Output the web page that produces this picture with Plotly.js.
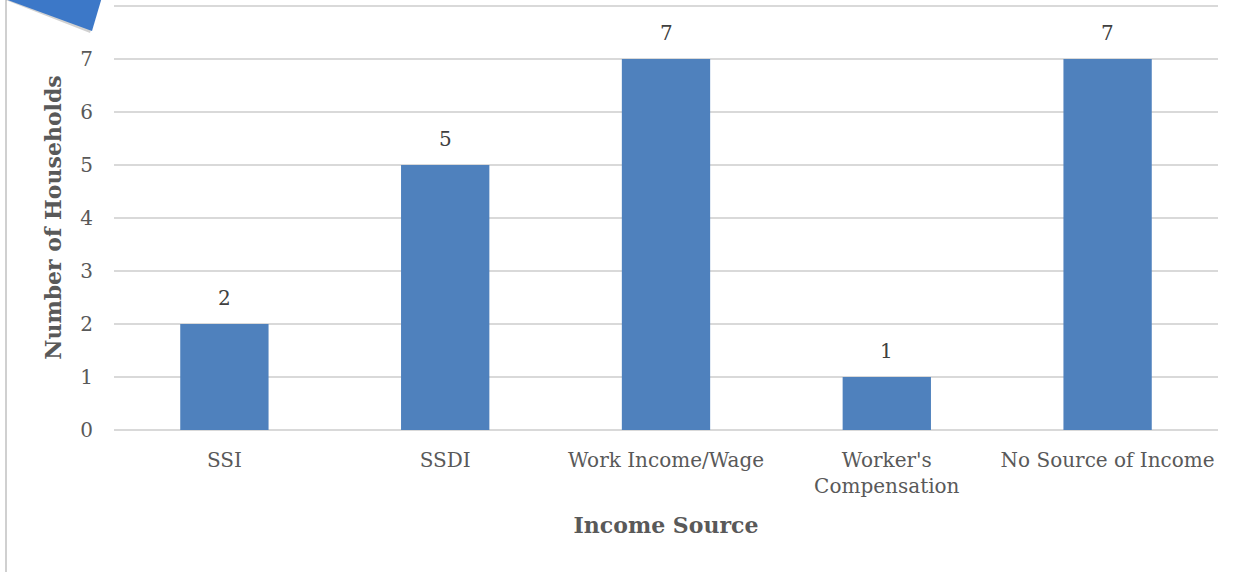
<!DOCTYPE html>
<html>
<head>
<meta charset="utf-8">
<script src="https://cdn.plot.ly/plotly-3.0.1.min.js"></script>
<style>html,body{margin:0;padding:0;background:#fff;}#chart{width:1243px;height:572px;}</style>
</head>
<body>
<div id="chart"></div>
<script>
var categories = ["SSI", "SSDI", "Work Income/Wage", "Worker's<br>Compensation", "No Source of Income"];
var households = [2, 5, 7, 1, 7];
var yTicks = [0, 1, 2, 3, 4, 5, 6, 7, 8];
var yTickLabels = ["0", "1", "2", "3", "4", "5", "6", "7", ""];

var FONT = "DejaVu Serif, Liberation Serif, serif";
var GREY = "#595959";

var trace = {
  type: "bar",
  x: categories,
  y: households,
  marker: {color: "#4f81bd"},
  width: 0.4,
  hoverinfo: "none"
};

var annotations = categories.map(function (c, i) {
  return {
    x: c, y: households[i], xref: "x", yref: "y",
    text: String(households[i]), showarrow: false,
    yanchor: "bottom", yshift: 12,
    font: {family: FONT, size: 20, color: "#404040"}
  };
});

var layout = {
  width: 1243, height: 572,
  margin: {l: 114, r: 25, t: 5, b: 142},
  paper_bgcolor: "#fff", plot_bgcolor: "#fff",
  showlegend: false,
  bargap: 0.6,
  xaxis: {
    type: "category",
    tickfont: {family: FONT, size: 20, color: GREY},
    ticks: "", showgrid: false, showline: false, zeroline: false,
    ticklabelstandoff: 16,
    title: {text: "<b>Income Source</b>", font: {family: FONT, size: 22, color: GREY}, standoff: 20},
    automargin: false
  },
  yaxis: {
    range: [0, 8.02],
    tickvals: yTicks, ticktext: yTickLabels,
    tickfont: {family: FONT, size: 20, color: GREY},
    ticks: "", ticklen: 0,
    ticklabelstandoff: 20,
    showgrid: true, gridcolor: "#d9d9d9", gridwidth: 1.5,
    zeroline: true, zerolinecolor: "#d9d9d9", zerolinewidth: 1.5,
    showline: false,
    title: {text: "<b>Number of Households</b>", font: {family: FONT, size: 22, color: GREY}, standoff: 12},
    automargin: false
  },
  annotations: annotations,
  shapes: [
    {type: "line", xref: "paper", yref: "paper", xsizemode: "pixel", ysizemode: "pixel",
     xanchor: 0, yanchor: 0, x0: -108, x1: -108, y0: -160, y1: 460,
     line: {color: "#d0d0d0", width: 2}},
    {type: "path", xref: "paper", yref: "paper", xsizemode: "pixel", ysizemode: "pixel",
     xanchor: 0, yanchor: 1,
     path: "M -116,8 L -12,8 L -24,-28 Z",
     fillcolor: "rgba(0,0,0,0.18)", line: {width: 0}},
    {type: "path", xref: "paper", yref: "paper", xsizemode: "pixel", ysizemode: "pixel",
     xanchor: 0, yanchor: 1,
     path: "M -114,8 L -12,8 L -22,-26 L -101,3 Z",
     fillcolor: "#3c78c8", line: {width: 0}}
  ]
};

Plotly.newPlot("chart", [trace], layout, {staticPlot: true, displayModeBar: false});
</script>
</body>
</html>
